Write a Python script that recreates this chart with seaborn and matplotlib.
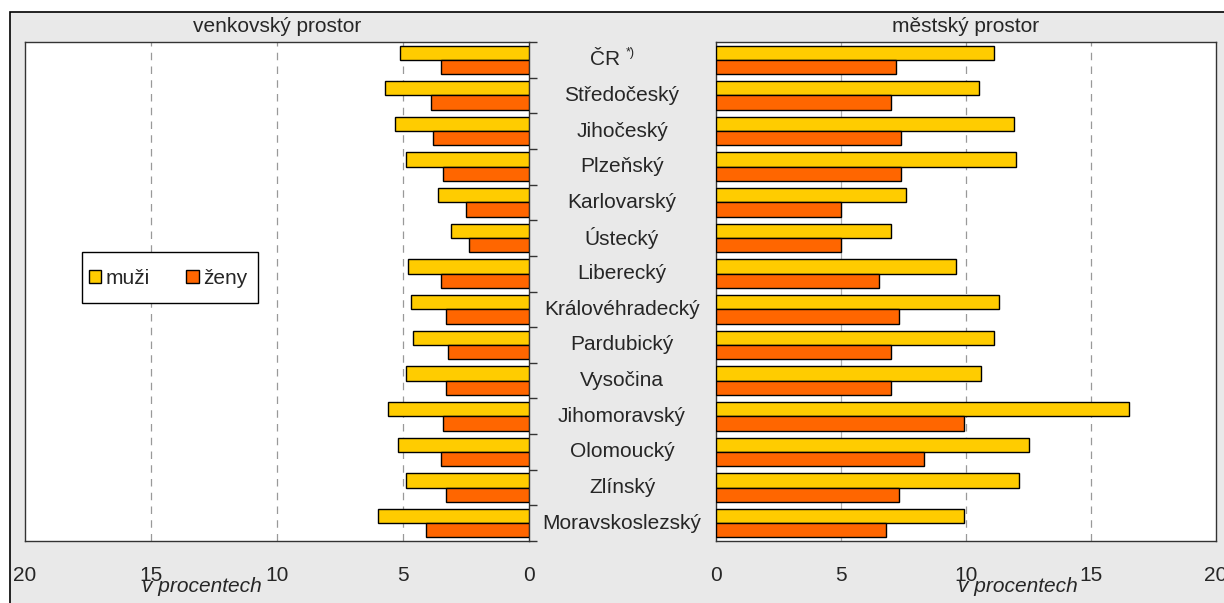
import matplotlib
matplotlib.use("Agg")
import matplotlib.pyplot as plt
import matplotlib.transforms as mtransforms
from matplotlib.patches import Rectangle
import numpy as np
import pandas as pd
import seaborn as sns

# Data
kraje = [
    "ČR", "Středočeský", "Jihočeský", "Plzeňský", "Karlovarský", "Ústecký",
    "Liberecký", "Královéhradecký", "Pardubický", "Vysočina", "Jihomoravský",
    "Olomoucký", "Zlínský", "Moravskoslezský",
]
venkov_muzi = [5.1, 5.7, 5.3, 4.9, 3.6, 3.1, 4.8, 4.7, 4.6, 4.9, 5.6, 5.2, 4.9, 6.0]
venkov_zeny = [3.5, 3.9, 3.8, 3.4, 2.5, 2.4, 3.5, 3.3, 3.2, 3.3, 3.4, 3.5, 3.3, 4.1]
mesto_muzi = [11.1, 10.5, 11.9, 12.0, 7.6, 7.0, 9.6, 11.3, 11.1, 10.6, 16.5, 12.5, 12.1, 9.9]
mesto_zeny = [7.2, 7.0, 7.4, 7.4, 5.0, 5.0, 6.5, 7.3, 7.0, 7.0, 9.9, 8.3, 7.3, 6.8]
pohlavi = ["muži", "ženy"]
xticks = [0, 5, 10, 15, 20]

colors = {"muži": "#FFCC00", "ženy": "#FF6600"}


def long_frame(muzi, zeny):
    return pd.DataFrame({
        "kraj": kraje * 2,
        "hodnota": muzi + zeny,
        "pohlavi": [pohlavi[0]] * len(kraje) + [pohlavi[1]] * len(kraje),
    })


sns.set_style("white")
plt.rcParams["font.family"] = ["Liberation Sans", "DejaVu Sans"]
FS = 15

W, H = 1224, 603
fig = plt.figure(figsize=(W / 100, H / 100), dpi=100)
fig.patch.set_facecolor("white")

# gray background panel with black top/left border
fig.patches.append(Rectangle((10 / W, -0.05), 1.1, 1 - 12 / H + 0.05,
                             transform=fig.transFigure, facecolor="#E9E9E9",
                             edgecolor="black", linewidth=1.2, zorder=-10))


def px_axes(x0, x1, y0, y1):
    return fig.add_axes([x0 / W, 1 - y1 / H, (x1 - x0) / W, (y1 - y0) / H])


ax_l = px_axes(25, 529, 42, 541)
ax_r = px_axes(716, 1216, 42, 541)

panels = [
    (ax_l, long_frame(venkov_muzi, venkov_zeny), "venkovský prostor", 277),
    (ax_r, long_frame(mesto_muzi, mesto_zeny), "městský prostor", 966),
]

for ax, df, title, tx in panels:
    sns.barplot(data=df, y="kraj", x="hodnota", hue="pohlavi", orient="h",
                palette=colors, saturation=1, edgecolor="black", linewidth=1,
                errorbar=None, width=0.8, ax=ax, legend=(ax is ax_l),
                zorder=3)
    ax.set_facecolor("white")
    ax.set_xlabel("")
    ax.set_ylabel("")
    ax.set_xticks(xticks)
    ax.set_xticklabels([str(t) for t in xticks], fontsize=FS)
    ax.tick_params(axis="x", direction="out", length=6, width=1,
                   color="#333333", pad=12)
    ax.set_yticks(np.arange(len(kraje) + 1) - 0.5)
    ax.set_yticklabels([])
    ax.set_ylim(len(kraje) - 0.5, -0.5)
    ax.tick_params(axis="y", direction="out", length=6, width=1, color="#333333")
    for s in ax.spines.values():
        s.set_color("#333333")
        s.set_linewidth(1)
    fig.text(tx / W, 1 - 27 / H, title, ha="center", va="center", fontsize=FS)

ax_l.set_xlim(20, 0)
ax_l.yaxis.tick_right()
ax_r.set_xlim(0, 20)

# vertical gridlines
for x in [5, 10, 15]:
    ax_l.axvline(x, color="#999999", lw=0.9, ls=(0, (6, 5)), zorder=1)
ax_r.axvline(5, color="#B0B0B0", lw=0.9, zorder=1)
for x in [10, 15]:
    ax_r.axvline(x, color="#999999", lw=0.9, ls=(0, (6, 5)), zorder=1)

# category labels in the middle gap
trans = mtransforms.blended_transform_factory(fig.transFigure, ax_r.transData)
for i, k in enumerate(kraje):
    if k == "ČR":
        fig.text(605 / W, i, k, transform=trans, ha="center", va="center",
                 fontsize=FS)
        fig.text(626 / W, i - 0.18, "*)", transform=trans, ha="left",
                 va="center", fontsize=9)
    else:
        fig.text(622 / W, i, k, transform=trans, ha="center", va="center",
                 fontsize=FS)

# axis captions
fig.text(202 / W, 1 - 586 / H, "v procentech", ha="center", va="center",
         fontsize=FS, style="italic")
fig.text(1018 / W, 1 - 586 / H, "v procentech", ha="center", va="center",
         fontsize=FS, style="italic")

# legend: square frame drawn separately, entries inside
ax_l.add_patch(Rectangle(((82 - 25) / 504, (541 - 303) / 499), 176 / 504, 51 / 499,
                         transform=ax_l.transAxes, facecolor="white",
                         edgecolor="black", linewidth=1, zorder=5))
leg = ax_l.legend(loc="center", bbox_to_anchor=((168 - 25) / 504, (541 - 278) / 499),
                  ncol=2, fontsize=FS, frameon=False, handlelength=0.6,
                  handleheight=0.6, handletextpad=0.2, columnspacing=1.75,
                  borderpad=0, borderaxespad=0, title=None)
leg.set_zorder(6)

fig.savefig("out.png", dpi=100)
